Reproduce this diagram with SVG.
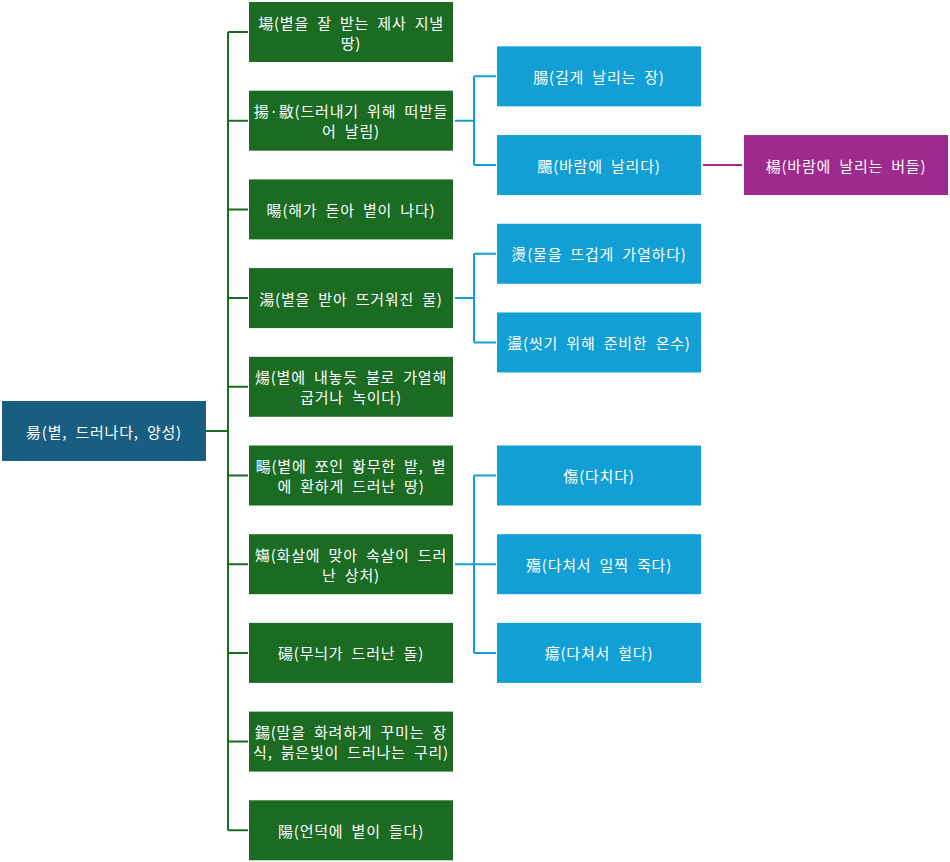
<svg xmlns="http://www.w3.org/2000/svg" width="950" height="862" viewBox="0 0 950 862">
<style>
text{font-family:"Noto Sans CJK KR","Noto Sans",sans-serif;font-size:15px;letter-spacing:0.8px;word-spacing:4px;fill:#ffffff;text-anchor:middle;dominant-baseline:central}
.g{fill:#1b6b23}.b{fill:#129fd6}.r{fill:#175e80}.p{fill:#9e2a8f}
.cg{stroke:#1b6b23;stroke-width:2;fill:none}
.cb{stroke:#129fd6;stroke-width:2;fill:none}
.cp{stroke:#9e2a8f;stroke-width:2;fill:none}
</style>
<rect width="950" height="862" fill="#ffffff"/>
<g id="connectors">
<path class="cg" d="M206 431H228M228 32V830.3M228 32H248M228 120.7H248M228 209.4H248M228 298.1H248M228 386.8H248M228 475.5H248M228 564.2H248M228 652.9H248M228 741.6H248M228 830.3H248"/>
<path class="cb" d="M455 120.7H474M474 76.35V165.05M474 76.35H496M474 165.05H496"/>
<path class="cb" d="M455 298.1H474M474 253.75V342.45M474 253.75H496M474 342.45H496"/>
<path class="cb" d="M455 564.2H474M474 475.5V652.9M474 475.5H496M474 564.2H496M474 652.9H496"/>
<path class="cp" d="M703 165.05H742"/>
</g>
<g id="root"><rect class="r" x="2" y="401" width="204" height="60"/><text x="104" y="431">昜(볕, 드러나다, 양성)</text></g>
<g id="g1"><rect class="g" x="249" y="2" width="204" height="60"/><text x="351" y="22">場(볕을 잘 받는 제사 지낼</text><text x="351" y="42">땅)</text></g>
<g id="g2"><rect class="g" x="249" y="90.7" width="204" height="60"/><text x="351" y="110.7">揚·敭(드러내기 위해 떠받들</text><text x="351" y="130.7">어 날림)</text></g>
<g id="g3"><rect class="g" x="249" y="179.4" width="204" height="60"/><text x="351" y="209.4">暘(해가 돋아 볕이 나다)</text></g>
<g id="g4"><rect class="g" x="249" y="268.1" width="204" height="60"/><text x="351" y="298.1">湯(볕을 받아 뜨거워진 물)</text></g>
<g id="g5"><rect class="g" x="249" y="356.8" width="204" height="60"/><text x="351" y="376.8">煬(볕에 내놓듯 불로 가열해</text><text x="351" y="396.8">굽거나 녹이다)</text></g>
<g id="g6"><rect class="g" x="249" y="445.5" width="204" height="60"/><text x="351" y="465.5">畼(볕에 쪼인 황무한 밭, 볕</text><text x="351" y="485.5">에 환하게 드러난 땅)</text></g>
<g id="g7"><rect class="g" x="249" y="534.2" width="204" height="60"/><text x="351" y="554.2">𥏻(화살에 맞아 속살이 드러</text><text x="351" y="574.2">난 상처)</text></g>
<g id="g8"><rect class="g" x="249" y="622.9" width="204" height="60"/><text x="351" y="652.9">碭(무늬가 드러난 돌)</text></g>
<g id="g9"><rect class="g" x="249" y="711.6" width="204" height="60"/><text x="351" y="731.6">鍚(말을 화려하게 꾸미는 장</text><text x="351" y="751.6">식, 붉은빛이 드러나는 구리)</text></g>
<g id="g10"><rect class="g" x="249" y="800.3" width="204" height="60"/><text x="351" y="830.3">陽(언덕에 볕이 들다)</text></g>
<g id="b1"><rect class="b" x="497" y="46.35" width="204" height="60"/><text x="599" y="76.35">腸(길게 날리는 장)</text></g>
<g id="b2"><rect class="b" x="497" y="135.05" width="204" height="60"/><text x="599" y="165.05">颺(바람에 날리다)</text></g>
<g id="b3"><rect class="b" x="497" y="223.75" width="204" height="60"/><text x="599" y="253.75">燙(물을 뜨겁게 가열하다)</text></g>
<g id="b4"><rect class="b" x="497" y="312.45" width="204" height="60"/><text x="599" y="342.45">盪(씻기 위해 준비한 온수)</text></g>
<g id="b5"><rect class="b" x="497" y="445.5" width="204" height="60"/><text x="599" y="475.5">傷(다치다)</text></g>
<g id="b6"><rect class="b" x="497" y="534.2" width="204" height="60"/><text x="599" y="564.2">殤(다쳐서 일찍 죽다)</text></g>
<g id="b7"><rect class="b" x="497" y="622.9" width="204" height="60"/><text x="599" y="652.9">瘍(다쳐서 헐다)</text></g>
<g id="p1"><rect class="p" x="744" y="135.05" width="204" height="60"/><text x="846" y="165.05">楊(바람에 날리는 버들)</text></g>
</svg>
